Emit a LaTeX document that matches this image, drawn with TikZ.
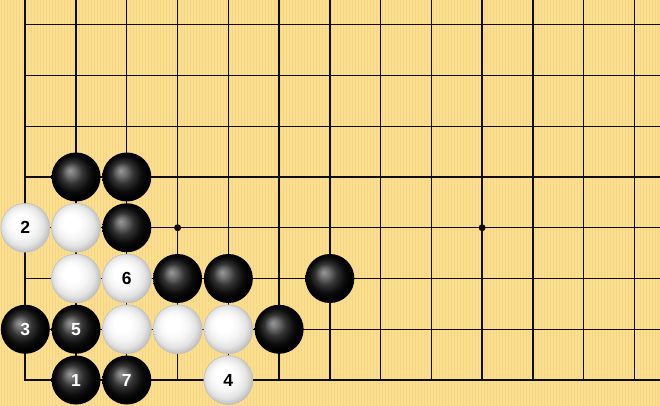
\documentclass[tikz,border=0pt]{standalone}
\usepackage{fontspec}
\setsansfont{Liberation Sans}
\definecolor{board}{RGB}{250,223,145}
\definecolor{stripe}{RGB}{244,208,124}
\definecolor{gridc}{RGB}{15,13,8}
\pgfdeclareradialshading{blackstone}{\pgfpoint{-6.5bp}{6.5bp}}{color(0bp)=(black!40);color(5bp)=(black!56);color(11bp)=(black!80);color(18bp)=(black!95);color(23bp)=(black);color(29bp)=(black);color(34bp)=(black!62)}
\pgfdeclareradialshading{whitestone}{\pgfpoint{-6.5bp}{6.5bp}}{color(0bp)=(white);color(8bp)=(white);color(15bp)=(black!4);color(21bp)=(black!11);color(26bp)=(black!24);color(31bp)=(black!40);color(35bp)=(black!55)}
\tikzset{
  gridline/.style={gridc, line width=1.3pt},
  edgeline/.style={gridc, line width=2pt},
  stone/.style={circle, minimum size=49pt, inner sep=0pt, shade,
    font=\sffamily\bfseries\fontsize{17.5}{18}\selectfont},
  bstone/.style={stone, shading=blackstone, text=white},
  wstone/.style={stone, shading=whitestone, text=black, draw=black!25, line width=0.5pt},
  hoshi/.style={circle, fill=gridc, minimum size=7pt, inner sep=0pt}
}
\begin{document}
\begin{tikzpicture}[x=1pt,y=-1pt]
\useasboundingbox (0,0) rectangle (660,406);
\fill[board] (0,0) rectangle (660,406);
\foreach \i in {0,...,219} \draw[stripe, line width=0.8pt, opacity=0.6] ({\i*3+1},0) -- ({\i*3+1},406);
\begin{scope}[shift={(25.3,24.7)}, x=50.76pt, y=-50.76pt]
  \foreach \i in {1,...,12} \draw[gridline] (\i,-0.49) -- (\i,7);
  \foreach \j in {0,...,6} \draw[gridline] (0,\j) -- (12.6,\j);
  \draw[edgeline] (0,-0.49) -- (0,7) -- (12.6,7);
  \node[hoshi] (h1) at (3,4) {};
  \node[hoshi] (h2) at (9,4) {};
  % black stones
  \node[bstone] (b13) at (1,3) {};
  \node[bstone] (b23) at (2,3) {};
  \node[bstone] (b24) at (2,4) {};
  \node[bstone] (b35) at (3,5) {};
  \node[bstone] (b45) at (4,5) {};
  \node[bstone] (b65) at (6,5) {};
  \node[bstone] (m3) at (0,6) {3};
  \node[bstone] (m5) at (1,6) {5};
  \node[bstone] (b56) at (5,6) {};
  \node[bstone] (m1) at (1,7) {1};
  \node[bstone] (m7) at (2,7) {7};
  % white stones
  \node[wstone] (m2) at (0,4) {2};
  \node[wstone] (w14) at (1,4) {};
  \node[wstone] (w15) at (1,5) {};
  \node[wstone] (m6) at (2,5) {6};
  \node[wstone] (w26) at (2,6) {};
  \node[wstone] (w36) at (3,6) {};
  \node[wstone] (w46) at (4,6) {};
  \node[wstone] (m4) at (4,7) {4};
\end{scope}
\end{tikzpicture}
\end{document}
